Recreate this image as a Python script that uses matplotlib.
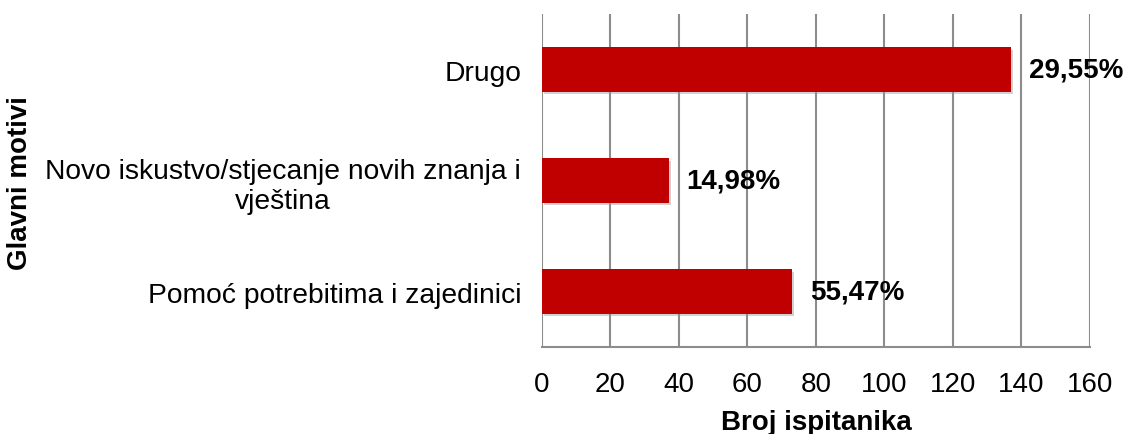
import matplotlib
matplotlib.use("Agg")
import matplotlib.pyplot as plt
import matplotlib.patheffects as pe

categories = ["Pomoć potrebitima i zajedinici",
              "Novo iskustvo/stjecanje novih znanja i\nvještina",
              "Drugo"]
values = [73, 37, 137]
labels = ["55,47%", "14,98%", "29,55%"]
xticks = [0, 20, 40, 60, 80, 100, 120, 140, 160]

plt.rcParams['font.family'] = ['Liberation Sans', 'DejaVu Sans']

fig = plt.figure(figsize=(11.29, 4.35), dpi=100)
ax = fig.add_axes([0.480, 0.2, 0.4854, 0.7655])

bars = ax.barh(range(len(categories)), values, height=0.4, color="#C00000", zorder=3)
for b in bars:
    b.set_path_effects([pe.SimplePatchShadow(offset=(1.5, -2), shadow_rgbFace="#999999", alpha=0.45),
                        pe.Normal()])

for i, (v, lab) in enumerate(zip(values, labels)):
    ax.annotate(lab, xy=(v, i), xytext=(13, 0), textcoords="offset points",
                ha="left", va="center", fontsize=20, fontweight="bold", color="black")

ax.set_xlim(0, 160)
ax.set_ylim(-0.5, 2.5)
ax.set_xticks(xticks)
ax.set_xticklabels([str(t) for t in xticks], fontsize=20)
ax.set_yticks(range(len(categories)))
ax.set_yticklabels(categories, fontsize=20.3)
for t in ax.get_yticklabels():
    t.set_multialignment("center")

ax.tick_params(axis="both", length=0)
ax.tick_params(axis="x", pad=17)
ax.tick_params(axis="y", pad=15)

ax.grid(axis="x", color="#8c8c8c", linewidth=1.5, zorder=0)
ax.set_axisbelow(True)
for s in ["top", "right", "left"]:
    ax.spines[s].set_visible(False)
ax.spines["bottom"].set_color("#8c8c8c")
ax.spines["bottom"].set_linewidth(1.5)

ax.set_xlabel("Broj ispitanika", fontsize=20, fontweight="bold", labelpad=9)
fig.text(0.018, 0.58, "Glavni motivi", rotation=90, ha="center", va="center",
         fontsize=20, fontweight="bold")

fig.savefig("out.png", dpi=100)
